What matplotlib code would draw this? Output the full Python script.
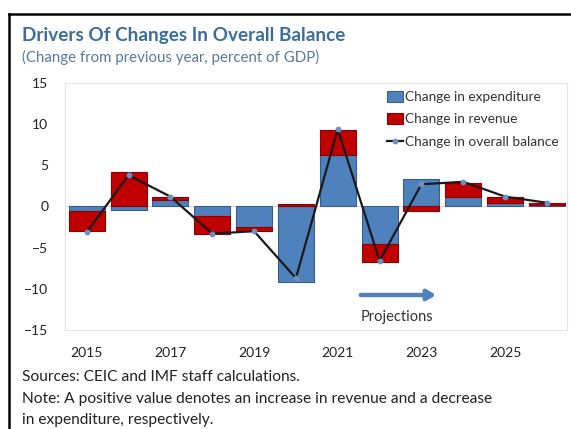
import numpy as np
import matplotlib.pyplot as plt
from matplotlib.lines import Line2D

plt.rcParams["font.family"] = ["Lato", "DejaVu Sans"]

# values (percent of GDP)
years = np.arange(2015, 2027)
expenditure = [-0.6, -0.4, 0.75, -1.1, -2.55, -9.2, 6.3, -4.5, 3.3, 1.1, 0.4, 0.2]
revenue = [-2.4, 4.2, 0.4, -2.2, -0.4, 0.3, 3.0, -2.3, -0.6, 1.8, 0.75, 0.2]
balance = [-3.1, 3.8, 1.2, -3.3, -3.0, -8.7, 9.4, -6.6, 2.7, 3.0, 1.2, 0.45]
tick_years = [2015, 2017, 2019, 2021, 2023, 2025]
y_ticks = [-15, -10, -5, 0, 5, 10, 15]

blue = "#4F81BD"
red = "#C00000"
title_blue = "#3A6D9C"

fig = plt.figure(figsize=(5.71, 4.29), dpi=100)
ax = fig.add_axes([0.1138, 0.2308, 0.8792, 0.5757])

exp = np.array(expenditure)
rev = np.array(revenue)
# excel-style stacking: positives stack up, negatives stack down
rev_bottom = np.where(rev >= 0, np.clip(exp, 0, None), np.clip(exp, None, 0))

w = 0.86
b1 = ax.bar(years, exp, width=w, color=blue, edgecolor="#385D8A", linewidth=0.8,
            label="Change in expenditure", zorder=2)
b2 = ax.bar(years, rev, width=w, bottom=rev_bottom, color=red, edgecolor="#8C0000",
            linewidth=0.8, label="Change in revenue", zorder=2)
l1, = ax.plot(years, balance, color="#1A1A1A", lw=1.6, marker="o", ms=3.2,
              mfc="#6E8FC0", mec="#6E8FC0", label="Change in overall balance",
              zorder=3)

ax.axhline(0, color="#D9D9D9", lw=0.8, zorder=1)

ax.set_xlim(2014.48, 2026.48)
ax.set_ylim(-15, 15)
ax.set_yticks(y_ticks)
ax.set_xticks(tick_years)
ax.set_xticklabels([str(y) for y in tick_years])
ax.tick_params(axis="x", length=0, labelsize=10, pad=12, colors="#222222")
ax.tick_params(axis="y", length=0, labelsize=10, pad=12, colors="#222222")
for s in ax.spines.values():
    s.set_color("#E3E3E3")
    s.set_linewidth(0.8)

# projections arrow
ax.annotate("", xy=(2023.35, -10.75), xytext=(2021.55, -10.75),
            arrowprops=dict(arrowstyle="-|>,head_length=0.5,head_width=0.3",
                            color=blue, lw=3.2, shrinkA=0, shrinkB=0))
ax.text(2022.42, -13.4, "Projections", ha="center", va="center", fontsize=10.5,
        color="#333333")

leg = ax.legend(handles=[b1, b2, l1], loc="upper right", bbox_to_anchor=(1.0, 1.0),
                frameon=False, fontsize=9.8, handlelength=1.2, handleheight=0.8,
                handletextpad=0.15, labelspacing=0.75, borderaxespad=0.2)
for t in leg.get_texts():
    t.set_color("#333333")

fig.text(22 / 571, 1 - 36 / 429, "Drivers Of Changes In Overall Balance",
         fontsize=13.6, fontweight="bold", color=title_blue, va="center")
fig.text(22 / 571, 1 - 57 / 429, "(Change from previous year, percent of GDP)",
         fontsize=10.8, color="#5A7A9A", va="center")

fig.text(22 / 571, 1 - 377 / 429, "Sources: CEIC and IMF staff calculations.",
         fontsize=11.2, color="#222222", va="center")
fig.text(22 / 571, 1 - 399 / 429,
         "Note: A positive value denotes an increase in revenue and a decrease",
         fontsize=11.2, color="#222222", va="center")
fig.text(22 / 571, 1 - 420 / 429, "in expenditure, respectively.",
         fontsize=11.2, color="#222222", va="center")

# outer frame (left and top edges visible)
fig.add_artist(Line2D([9 / 571, 9 / 571], [0, 1 - 14 / 429], color="black", lw=1.8,
                      transform=fig.transFigure))
fig.add_artist(Line2D([9 / 571, 1], [1 - 14 / 429, 1 - 14 / 429], color="black",
                      lw=1.8, transform=fig.transFigure))

fig.savefig("out.png", dpi=100)
